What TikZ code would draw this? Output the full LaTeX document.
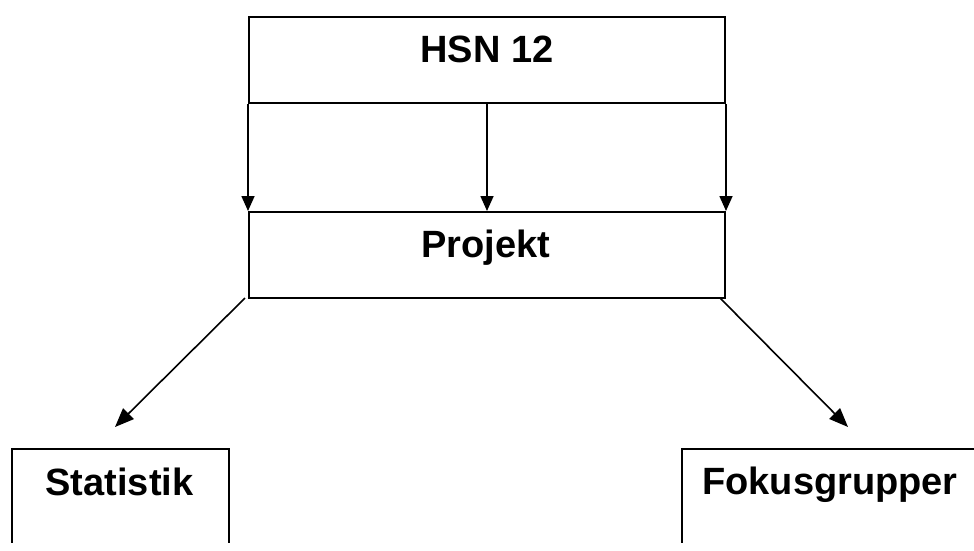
\documentclass[tikz,border=0pt]{standalone}
\usepackage{fontspec}
\setmainfont{Liberation Sans}
\usetikzlibrary{arrows.meta}
\begin{document}
\begin{tikzpicture}[x=1pt,y=-1pt,
  box/.style={draw, line width=2pt, rectangle, inner sep=0pt, anchor=north west},
  lbl/.style={font=\fontsize{38}{40}\selectfont\bfseries, anchor=base, inner sep=0pt},
  arr/.style={-{Triangle[length=15pt,width=13pt]}, line width=1.6pt},
  diag/.style={-{Triangle[length=19pt,width=15pt]}, line width=1.6pt}]
\useasboundingbox (0,0) rectangle (974,550);

% upper boxes
\node[box, minimum width=476pt, minimum height=86pt] (hsn) at (248,16) {};
\node[lbl] (hsnt) at (487,62) {HSN 12};
\node[box, minimum width=476pt, minimum height=86pt] (proj) at (248,211) {};
\node[lbl] (projt) at (486,257) {Projekt};

% three downward connectors
\draw[arr] (hsn.south west) -- (proj.north west);
\draw[arr] (hsn.south) -- (proj.north);
\draw[arr] (hsn.south east) -- (proj.north east);

% lower boxes, open at the bottom edge
\begin{scope}
  \clip (0,0) rectangle (974,542);
  \node[box, minimum width=217pt, minimum height=120pt] (stat) at (11,448) {};
  \node[box, minimum width=310pt, minimum height=120pt] (fokus) at (681,448) {};
\end{scope}
\node[lbl] (statt) at (119.5,495) {Statistik};
\node[lbl] (fokust) at (830,494) {Fokusgrupper};

% diagonal connectors
\coordinate (dl1) at (245,298);
\coordinate (dl2) at (115,427);
\coordinate (dr1) at (720,298);
\coordinate (dr2) at (848,427);
\draw[diag] (dl1) -- (dl2);
\draw[diag] (dr1) -- (dr2);
\end{tikzpicture}
\end{document}
